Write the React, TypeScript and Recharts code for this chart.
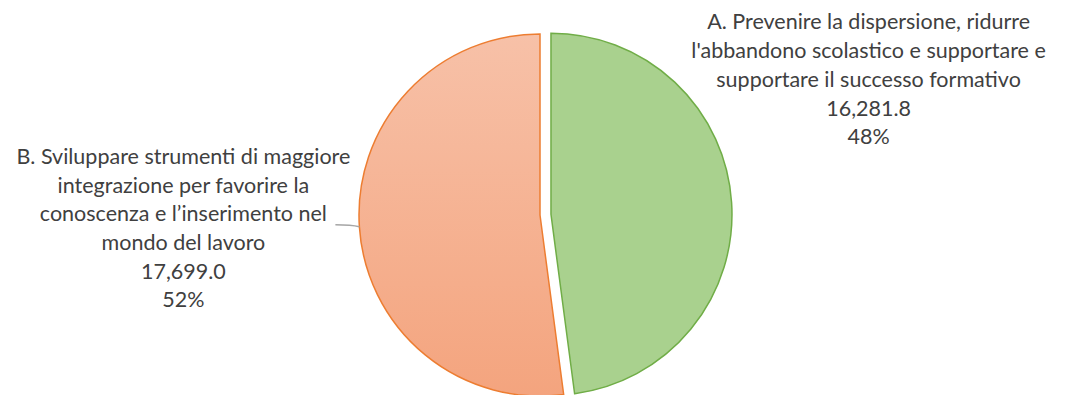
import { PieChart, Pie, Cell } from 'recharts';

const categoryLines = [
  ['A. Prevenire la dispersione, ridurre', "l'abbandono scolastico e supportare e", 'supportare il successo formativo'],
  ['B. Sviluppare strumenti di maggiore', 'integrazione per favorire la', 'conoscenza e l’inserimento nel', 'mondo del lavoro'],
];
const values = [16281.8, 17699.0];

const data = values.map((v, i) => ({ name: categoryLines[i].join(' '), value: v }));

const RADIAN = Math.PI / 180;
const LINE_H = 28.7;
// label block placement relative to the slice's outer mid point
const labelOffsets = [
  { dx: 137, dy: -181 },
  { dx: -176, dy: -71 },
];
const explode = 11;

const fmt = (v: number) =>
  v.toLocaleString('en-US', { minimumFractionDigits: 1, maximumFractionDigits: 1 });

function makeLabel(show: number) {
  return (props: any) => {
    const { cx, cy, midAngle, outerRadius, index, percent, value } = props;
    if (index !== show) return <g />;
    const ax = cx + outerRadius * Math.cos(-midAngle * RADIAN);
    const ay = cy + outerRadius * Math.sin(-midAngle * RADIAN);
    const x = ax + labelOffsets[index].dx;
    const y0 = ay + labelOffsets[index].dy;
    const lines = [...categoryLines[index], fmt(value), `${Math.round(percent * 100)}%`];
    return (
      <g>
        {lines.map((t, i) => (
          <text
            key={i}
            x={x}
            y={y0 + i * LINE_H}
            textAnchor="middle"
            dominantBaseline="central"
            fill="#404040"
            fontSize={21.5}
            fontFamily="Lato"
            fontWeight={400}
          >
            {t}
          </text>
        ))}
      </g>
    );
  };
}

function makeLabelLine(show: number) {
  return (props: any) => {
    const { points, index } = props;
    if (index !== show || !points) return <g />;
    const p = points[0];
    return (
      <path
        d={`M${p.x},${p.y} Q${p.x - 8},${p.y - 2} ${p.x - 24},${p.y - 2}`}
        stroke="#A6A6A6"
        strokeWidth={1.5}
        fill="none"
      />
    );
  };
}

export default function App() {
  const cx = 540;
  const cy = 215;
  const r = 181;
  const midA = 90 - (values[0] / (values[0] + values[1])) * 180;
  return (
    <div style={{ position: 'absolute', left: 0, top: 0, width: 1066, height: 395, background: '#fff' }}>
      <PieChart width={1066} height={395} margin={{ top: 0, right: 0, bottom: 0, left: 0 }}>
        <defs>
          <linearGradient id="orangeGrad" x1="0" y1="0" x2="0" y2="1">
            <stop offset="0%" stopColor="#F7C1A8" />
            <stop offset="100%" stopColor="#F4A47E" />
          </linearGradient>
        </defs>
        <Pie
          data={data}
          dataKey="value"
          nameKey="name"
          cx={cx}
          cy={cy}
          outerRadius={r}
          startAngle={90}
          endAngle={-270}
          isAnimationActive={false}
          label={makeLabel(1)}
          labelLine={makeLabelLine(1)}
        >
          <Cell fill="none" stroke="none" />
          <Cell fill="url(#orangeGrad)" stroke="#ED7D31" strokeWidth={1.5} />
        </Pie>
        <Pie
          data={data}
          dataKey="value"
          nameKey="name"
          cx={cx + explode * Math.cos(midA * RADIAN)}
          cy={cy - explode * Math.sin(midA * RADIAN)}
          outerRadius={r}
          startAngle={90}
          endAngle={-270}
          isAnimationActive={false}
          label={makeLabel(0)}
          labelLine={false}
        >
          <Cell fill="#A9D18E" stroke="#70AD47" strokeWidth={1.5} />
          <Cell fill="none" stroke="none" />
        </Pie>
      </PieChart>
    </div>
  );
}
